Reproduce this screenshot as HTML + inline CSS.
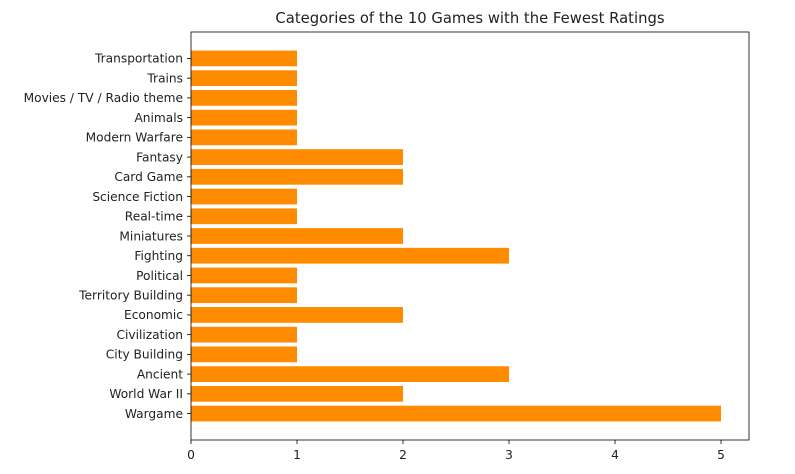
<!DOCTYPE html>
<html><head><meta charset="utf-8"><style>
body{margin:0;background:#fff;width:795px;height:470px;overflow:hidden;font-family:"DejaVu Sans","Liberation Sans",sans-serif}
</style></head><body>
<svg id="chart" width="795" height="470" xmlns="http://www.w3.org/2000/svg"></svg>
<script>
const categories=["Wargame","World War II","Ancient","City Building","Civilization","Economic","Territory Building","Political","Fighting","Miniatures","Real-time","Science Fiction","Card Game","Fantasy","Modern Warfare","Animals","Movies / TV / Radio theme","Trains","Transportation"];
const values=[5,2,3,1,1,2,1,1,3,2,1,1,2,2,1,1,1,1,1];
const xTicks=[0,1,2,3,4,5];
const NS="http://www.w3.org/2000/svg";
const svg=document.getElementById('chart');
const L=191,R=749,T=32,B=440;
const xMax=5.264;
function xs(v){return L+(v/xMax)*(R-L);}
const yMin=-1.34,yMax=categories.length-1+1.34;
function ys(i){return B-(i-yMin)/(yMax-yMin)*(B-T);}
function el(tag,attrs,parent){const e=document.createElementNS(NS,tag);for(const k in attrs)e.setAttribute(k,attrs[k]);(parent||svg).appendChild(e);return e;}
const step=(B-T)/(yMax-yMin);
categories.forEach((c,i)=>{
  const cy=ys(i),h=0.8*step;
  const r=el('rect',{x:xs(0),y:cy-h/2,width:xs(values[i])-xs(0),height:h,fill:'#ff8c00'});
  
  
  el('line',{x1:L-4,x2:L,y1:cy,y2:cy,stroke:'#000','stroke-width':0.8});
  const t=el('text',{x:L-8,y:cy+4.3,'text-anchor':'end','font-size':12.2,fill:'#222'});
  t.textContent=c;
  
  
});
xTicks.forEach(v=>{
  const x=xs(v);
  el('line',{x1:x,x2:x,y1:B,y2:B+4,stroke:'#000','stroke-width':0.8});
  const t=el('text',{x:x,y:B+19,'text-anchor':'middle','font-size':12.2,fill:'#222'});
  t.textContent=v;
  
  
});
const f=el('rect',{x:L,y:T,width:R-L,height:B-T,fill:'none',stroke:'#000','stroke-width':0.8});


const title=el('text',{x:(L+R)/2,y:T-9,'text-anchor':'middle','font-size':14.8,fill:'#222'});
title.textContent='Categories of the 10 Games with the Fewest Ratings';


</script>
</body></html>
